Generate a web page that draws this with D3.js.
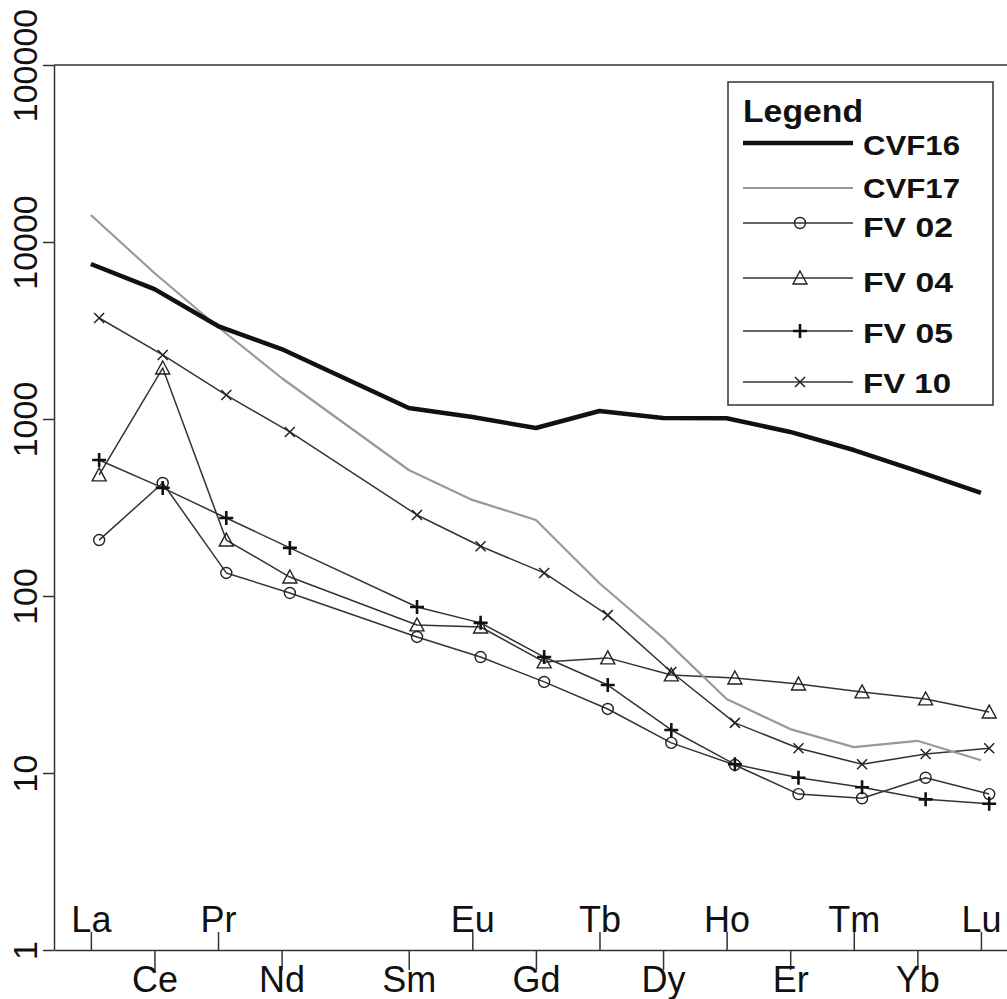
<!DOCTYPE html>
<html>
<head>
<meta charset="utf-8">
<script src="https://cdn.jsdelivr.net/npm/d3@7"></script>
<style>
  html, body { margin: 0; padding: 0; background: #fff; }
  svg { display: block; font-family: "Liberation Sans", Arial, sans-serif; }
</style>
</head>
<body>
<svg id="chart" width="1007" height="999"></svg>
<script>
// Rare-earth element pattern (log scale), Pm omitted
const elements = ["La","Ce","Pr","Nd","Sm","Eu","Gd","Tb","Dy","Ho","Er","Tm","Yb","Lu"];
const atomicNumbers = [57,58,59,60,62,63,64,65,66,67,68,69,70,71];
const yTicks = [1, 10, 100, 1000, 10000, 100000];

const cvf16 = [7510, 5420, 3350, 2485, 1153, 1026, 889, 1110, 1013, 1010, 845, 668, 508, 382];
const cvf17 = [14200, 6680, 3310, 1705, 515, 349, 269, 118, 58, 26.2, 17.7, 14.0, 15.2, 11.8];
const fv02  = [207, 435, 135, 104, 58.7, 45.2, 32.7, 23.0, 14.8, 11.1, 7.6, 7.2, 9.4, 7.6];
const fv04  = [483, 1941, 207, 128, 68.6, 66.8, 42.4, 44.7, 35.8, 34.4, 31.8, 28.7, 26.2, 22.1];
const fv05  = [587, 408, 276, 187, 86.7, 70.5, 45.2, 31.4, 17.5, 11.2, 9.4, 8.3, 7.1, 6.7];
const fv10  = [3720, 2300, 1366, 845, 287, 191, 135, 78, 37.2, 19.2, 13.8, 11.2, 12.8, 13.8];

const seriesNames = ["CVF16", "CVF17", "FV 02", "FV 04", "FV 05", "FV 10"];

// ---- layout ----
const plot = { left: 54, right: 1007, top: 65, bottom: 950 };
const xDomain = [56.42, 71.41];
const sampleShift = 0.13;   // FV samples are plotted slightly right of the element tick

const svg = d3.select("#chart");
const x = d3.scaleLinear().domain(xDomain).range([plot.left, plot.right]);
const y = d3.scaleLog().domain([1, 100000]).range([plot.bottom, plot.top]);

const axisColor = "#333";
const textColor = "#111";
const fontFamily = "'Liberation Sans', Arial, sans-serif";

// ---- frame: top border ----
svg.append("line")
  .attr("x1", plot.left).attr("x2", plot.right)
  .attr("y1", plot.top).attr("y2", plot.top)
  .attr("stroke", axisColor).attr("stroke-width", 1.5);

// ---- y axis ----
const yAxis = svg.append("g")
  .attr("transform", `translate(${plot.left},0)`)
  .call(d3.axisLeft(y).tickValues(yTicks).tickSize(11).tickSizeOuter(0)
    .tickFormat(d3.format("d")));
yAxis.select(".domain").attr("stroke", axisColor).attr("stroke-width", 1.5);
yAxis.selectAll(".tick line").attr("stroke", axisColor).attr("stroke-width", 1.5);
yAxis.selectAll(".tick text")
  .attr("x", null).attr("dy", null)
  .attr("transform", "translate(-17,0) rotate(-90)")
  .attr("text-anchor", "middle")
  .attr("font-size", 34).attr("fill", textColor)
  .attr("font-family", fontFamily);

// ---- x axis: alternating labels below / above ----
const nameOf = d => elements[atomicNumbers.indexOf(d)];
const lowerTicks = atomicNumbers.filter(n => n % 2 === 0);
const upperTicks = atomicNumbers.filter(n => n % 2 === 1);

const xLower = svg.append("g")
  .attr("transform", `translate(0,${plot.bottom})`)
  .call(d3.axisBottom(x).tickValues(lowerTicks).tickFormat(nameOf)
    .tickSize(20).tickSizeOuter(0).tickPadding(-3.5));
const xUpper = svg.append("g")
  .attr("transform", `translate(0,${plot.bottom})`)
  .call(d3.axisTop(x).tickValues(upperTicks).tickFormat(nameOf)
    .tickSize(18).tickSizeOuter(0).tickPadding(0));
xUpper.select(".domain").remove();
[xLower, xUpper].forEach(g => {
  g.select(".domain").attr("stroke", axisColor).attr("stroke-width", 1.5);
  g.selectAll(".tick line").attr("stroke", axisColor).attr("stroke-width", 1.5);
  g.selectAll(".tick text").attr("font-size", 36).attr("fill", textColor)
    .attr("font-family", fontFamily);
});

// ---- marker shapes ----
function drawMarker(g, kind, cx, cy) {
  const m = g.append("g").attr("transform", `translate(${cx},${cy})`);
  if (kind === "circle") {
    m.append("circle").attr("r", 5.5).attr("fill", "none")
      .attr("stroke", "#222").attr("stroke-width", 1.4);
  } else if (kind === "triangle") {
    const s = 7;
    m.append("path").attr("d", `M0,${-s}L${s},${s*0.85}L${-s},${s*0.85}Z`)
      .attr("fill", "none").attr("stroke", "#222").attr("stroke-width", 1.4);
  } else if (kind === "plus") {
    m.append("path").attr("d", "M-7,0H7M0,-7V7")
      .attr("stroke", "#111").attr("stroke-width", 2.6);
  } else if (kind === "x") {
    m.append("path").attr("d", "M-5,-5L5,5M-5,5L5,-5")
      .attr("stroke", "#222").attr("stroke-width", 1.5);
  }
}

// ---- series ----
const series = [
  { name: seriesNames[0], values: cvf16, stroke: "#111", width: 4.5, marker: null, shift: 0 },
  { name: seriesNames[1], values: cvf17, stroke: "#999", width: 2.2, marker: null, shift: 0 },
  { name: seriesNames[2], values: fv02, stroke: "#333", width: 1.5, marker: "circle", shift: sampleShift },
  { name: seriesNames[3], values: fv04, stroke: "#333", width: 1.5, marker: "triangle", shift: sampleShift },
  { name: seriesNames[4], values: fv05, stroke: "#333", width: 1.5, marker: "plus", shift: sampleShift },
  { name: seriesNames[5], values: fv10, stroke: "#333", width: 1.5, marker: "x", shift: sampleShift }
];

const plotG = svg.append("g");
// sample lines first, reference curves on top
const order = [2, 3, 4, 5, 1, 0];
order.forEach(k => {
  const s = series[k];
  const line = d3.line()
    .x((d, i) => x(atomicNumbers[i] + s.shift))
    .y(d => y(d));
  plotG.append("path").datum(s.values)
    .attr("d", line).attr("fill", "none")
    .attr("stroke", s.stroke).attr("stroke-width", s.width)
    .attr("stroke-linejoin", "round").attr("stroke-linecap", "butt");
  if (s.marker) {
    s.values.forEach((v, i) => drawMarker(plotG, s.marker, x(atomicNumbers[i] + s.shift), y(v)));
  }
});

// ---- legend ----
const legend = svg.append("g");
legend.append("rect")
  .attr("x", 728).attr("y", 82).attr("width", 265).attr("height", 323)
  .attr("fill", "#fff").attr("stroke", axisColor).attr("stroke-width", 1.5);
legend.append("text")
  .attr("x", 743).attr("y", 122)
  .attr("font-size", 32).attr("font-weight", "bold").attr("fill", textColor)
  .attr("textLength", 120).attr("lengthAdjust", "spacingAndGlyphs")
  .text("Legend");

const legendRows = [
  { lineY: 143, textY: 155, len: 97 },
  { lineY: 188, textY: 198, len: 97 },
  { lineY: 223, textY: 237, len: 90 },
  { lineY: 278, textY: 292, len: 90 },
  { lineY: 331, textY: 343, len: 90 },
  { lineY: 382, textY: 393, len: 88 }
];
series.forEach((s, k) => {
  const r = legendRows[k];
  legend.append("line")
    .attr("x1", 743).attr("x2", 853).attr("y1", r.lineY).attr("y2", r.lineY)
    .attr("stroke", s.stroke).attr("stroke-width", s.width);
  if (s.marker) drawMarker(legend, s.marker, 800, r.lineY);
  legend.append("text")
    .attr("x", 863).attr("y", r.textY)
    .attr("font-size", 27).attr("font-weight", "bold").attr("fill", textColor)
    .attr("textLength", r.len).attr("lengthAdjust", "spacingAndGlyphs")
    .text(s.name);
});
</script>
</body>
</html>
